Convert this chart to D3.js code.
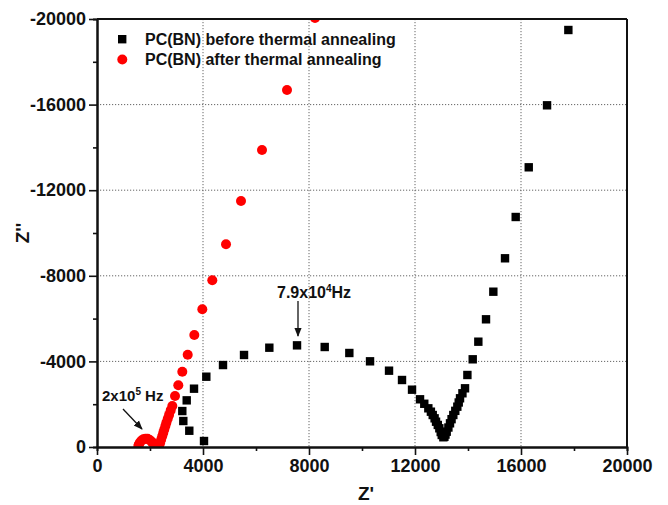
<!DOCTYPE html>
<html>
<head>
<meta charset="utf-8">
<title>Nyquist plot PC(BN)</title>
<style>
  body { margin: 0; background: #fff; }
  svg text { font-family: "Liberation Sans", Arial, sans-serif; font-weight: bold; fill: #111; }
</style>
</head>
<body>
<svg id="chart" width="668" height="505"></svg>
<script src="https://cdn.jsdelivr.net/npm/d3@7/dist/d3.min.js"></script>
<script>
// before thermal annealing (black squares): Z', Z''
var beforeX = [4038, 3483, 3257, 3219, 3385, 3661, 4125, 4755, 5548, 6503, 7548, 8593, 9522, 10303, 11020, 11510, 11888,
  12190, 12350, 12503, 12600, 12669, 12740, 12794, 12860, 12918, 12970, 13009, 13070,
  13110, 13150, 13196, 13260, 13321, 13380, 13446, 13520, 13597, 13650, 13699, 13790, 13888,
  13977, 14178, 14390, 14680, 14956, 15397, 15800, 16292, 16983, 17787];
var beforeY = [-280, -760, -1215, -1680, -2180, -2725, -3285, -3830, -4300, -4640, -4750, -4673, -4393, -4004, -3566, -3131, -2678,
  -2229, -2020, -1808, -1650, -1495, -1340, -1182, -1030, -874, -700, -561, -455,
  -480, -580, -715, -910, -1107, -1300, -1495, -1690, -1884, -2080, -2276, -2510, -2743,
  -3365, -4098, -4921, -5967, -7257, -8818, -10748, -13070, -15967, -19486];

// after thermal annealing (red circles): Z', Z''
var afterX = [1560, 1580, 1620, 1680, 1750, 1830, 1910, 1990, 2060, 2120, 2170, 2200, 2260, 2300,
  2340, 2380, 2420, 2460, 2500, 2540, 2580, 2620, 2670, 2720, 2780, 2842,
  2944, 3068, 3219, 3423, 3672, 3974, 4351, 4868, 5434, 6227, 7170, 8227];
var afterY = [-40, -120, -210, -300, -360, -390, -380, -330, -250, -160, -70, -20, -10, -10,
  -30, -180, -340, -500, -660, -820, -980, -1140, -1320, -1500, -1710, -1916,
  -2383, -2883, -3519, -4313, -5234, -6435, -7790, -9472, -11495, -13879, -16683, -20050];

var xTicks = [0, 4000, 8000, 12000, 16000, 20000];
var yTicks = [0, -4000, -8000, -12000, -16000, -20000];
var legendLabels = ["PC(BN) before thermal annealing", "PC(BN) after thermal annealing"];

var svg = d3.select("#chart");
var pLeft = 97, pRight = 627, pTop = 19, pBottom = 447;

var x = d3.scaleLinear().domain([0, 20000]).range([pLeft, pRight]);
var y = d3.scaleLinear().domain([0, -20000]).range([pBottom, pTop]);

// dotted grid
var grid = svg.append("g").attr("stroke", "#666").attr("stroke-width", 1).attr("stroke-dasharray", "1.2,1.8");
grid.selectAll(".gx").data(xTicks.slice(1, -1)).enter().append("line")
  .attr("x1", function (d) { return x(d); }).attr("x2", function (d) { return x(d); })
  .attr("y1", pTop).attr("y2", pBottom);
grid.selectAll(".gy").data(yTicks.slice(1, -1)).enter().append("line")
  .attr("y1", function (d) { return y(d); }).attr("y2", function (d) { return y(d); })
  .attr("x1", pLeft).attr("x2", pRight);

// data, clipped to plot area
svg.append("clipPath").attr("id", "clip").append("rect")
  .attr("x", pLeft).attr("y", pTop).attr("width", pRight - pLeft).attr("height", pBottom - pTop);
var plot = svg.append("g").attr("clip-path", "url(#clip)");

plot.selectAll(".after").data(d3.range(afterX.length)).enter().append("circle")
  .attr("cx", function (i) { return x(afterX[i]); })
  .attr("cy", function (i) { return y(afterY[i]); })
  .attr("r", 5).attr("fill", "#f00");

plot.selectAll(".before").data(d3.range(beforeX.length)).enter().append("rect")
  .attr("x", function (i) { return x(beforeX[i]) - 4.2; })
  .attr("y", function (i) { return y(beforeY[i]) - 4.2; })
  .attr("width", 8.4).attr("height", 8.4).attr("fill", "#000");

// axes (plain hyphen for minus, like the original)
var fmt = function (d) { return String(d); };
var xAxis = d3.axisBottom(x).tickValues(xTicks).tickSizeInner(8).tickSizeOuter(0).tickPadding(4).tickFormat(fmt);
var xMinor = d3.axisBottom(x).tickValues(d3.range(2000, 20000, 4000)).tickSize(4).tickFormat("");
var yAxis = d3.axisLeft(y).tickValues(yTicks).tickSizeInner(8).tickSizeOuter(0).tickPadding(3).tickFormat(fmt);
var yMinor = d3.axisLeft(y).tickValues(d3.range(-2000, -20000, -4000)).tickSize(4).tickFormat("");

function styleAxis(g) {
  g.select(".domain").attr("stroke", "#111").attr("stroke-width", 2);
  g.selectAll(".tick line").attr("stroke", "#111").attr("stroke-width", 1.6);
  g.selectAll(".tick text").attr("font-size", 18).attr("font-weight", "bold")
    .attr("font-family", "Liberation Sans, Arial, sans-serif").attr("fill", "#111");
}

svg.append("g").attr("transform", "translate(0," + pBottom + ")").call(xMinor).call(styleAxis);
svg.append("g").attr("transform", "translate(0," + pBottom + ")").call(xAxis).call(styleAxis);
svg.append("g").attr("transform", "translate(" + pLeft + ",0)").call(yMinor).call(styleAxis);
svg.append("g").attr("transform", "translate(" + pLeft + ",0)").call(yAxis).call(styleAxis);

// top and right frame
svg.append("line").attr("x1", pLeft).attr("x2", pRight).attr("y1", pTop).attr("y2", pTop).attr("stroke", "#111").attr("stroke-width", 2);
svg.append("line").attr("x1", pRight).attr("x2", pRight).attr("y1", pTop).attr("y2", pBottom).attr("stroke", "#111").attr("stroke-width", 2);

// axis titles
svg.append("text").attr("x", 366).attr("y", 500).attr("text-anchor", "middle").attr("font-size", 19).text("Z'");
svg.append("text").attr("transform", "translate(29,233) rotate(-90)").attr("text-anchor", "middle").attr("font-size", 19).text("Z''");

// legend
var lg = svg.append("g");
lg.append("rect").attr("x", 118).attr("y", 35).attr("width", 8.4).attr("height", 8.4).attr("fill", "#000");
lg.append("circle").attr("cx", 122.3).attr("cy", 59.5).attr("r", 5).attr("fill", "#f00");
lg.selectAll("text").data(legendLabels).enter().append("text")
  .attr("x", 145).attr("y", function (d, i) { return 45 + i * 20; })
  .attr("font-size", 16).text(function (d) { return d; });

// annotations
var defs = svg.append("defs");
defs.append("marker").attr("id", "arrow").attr("viewBox", "0 0 10 10").attr("refX", 9).attr("refY", 5)
  .attr("markerWidth", 7).attr("markerHeight", 7).attr("orient", "auto")
  .append("path").attr("d", "M0,1 L10,5 L0,9 Z").attr("fill", "#111");

var a1 = svg.append("text").attr("x", 102).attr("y", 401).attr("font-size", 15);
a1.append("tspan").text("2x10");
a1.append("tspan").attr("dy", -6).attr("font-size", 10).text("5");
a1.append("tspan").attr("dy", 6).text(" Hz");
svg.append("line").attr("x1", 123).attr("y1", 409).attr("x2", 142).attr("y2", 429)
  .attr("stroke", "#111").attr("stroke-width", 1.3).attr("marker-end", "url(#arrow)");

var a2 = svg.append("text").attr("x", 277).attr("y", 298).attr("font-size", 16);
a2.append("tspan").text("7.9x10");
a2.append("tspan").attr("dy", -6).attr("font-size", 10).text("4");
a2.append("tspan").attr("dy", 6).text("Hz");
svg.append("line").attr("x1", 298).attr("y1", 301).attr("x2", 298).attr("y2", 336)
  .attr("stroke", "#111").attr("stroke-width", 1.3).attr("marker-end", "url(#arrow)");
</script>
</body>
</html>
